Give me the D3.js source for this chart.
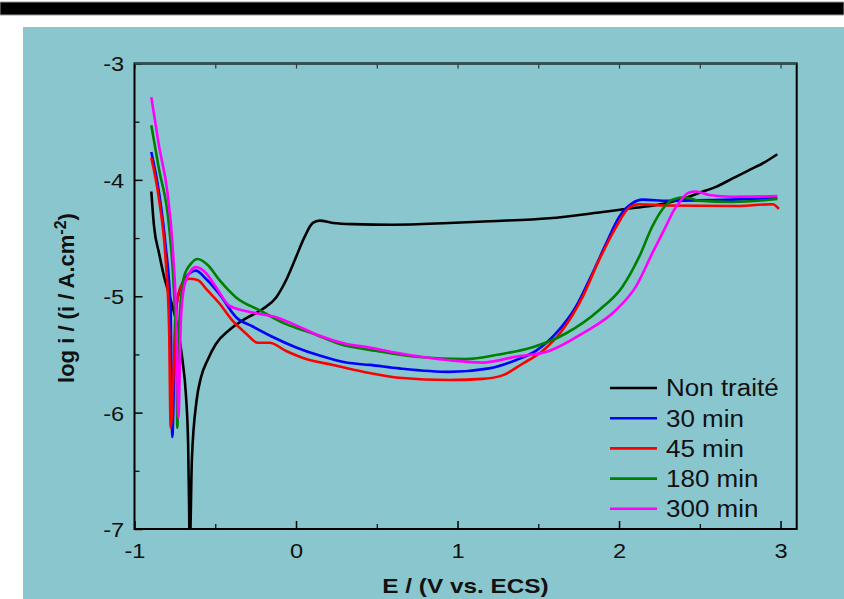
<!DOCTYPE html>
<html><head><meta charset="utf-8">
<script src="https://cdn.jsdelivr.net/npm/d3@7/dist/d3.min.js"></script>
<style>html,body{margin:0;padding:0;background:#fff;}svg{display:block;}</style>
</head><body>
<svg id="chart" width="844" height="599"></svg>
<script>
const seriesNames = ["Non traité", "30 min", "45 min", "180 min", "300 min"];
const seriesColors = ["#000000", "#0000ff", "#ff0000", "#008000", "#ff00ff"];
const xTicks = [-1, 0, 1, 2, 3];
const yTicks = [-3, -4, -5, -6, -7];

const nonTraite = [[-0.896,-4.10],[-0.879,-4.40],[-0.848,-4.63],[-0.817,-4.83],[-0.776,-5.03],[-0.735,-5.26],[-0.703,-5.55],[-0.682,-5.84],[-0.668,-6.27],[-0.662,-6.8],[-0.658,-7.3],[-0.652,-6.9],[-0.645,-6.41],[-0.616,-5.90],[-0.589,-5.70],[-0.548,-5.55],[-0.496,-5.41],[-0.413,-5.29],[-0.31,-5.19],[-0.206,-5.11],[-0.123,-5.01],[-0.061,-4.86],[0.001,-4.66],[0.053,-4.49],[0.104,-4.37],[0.146,-4.35],[0.229,-4.37],[0.353,-4.38],[0.6,-4.385],[0.948,-4.37],[1.2,-4.355],[1.567,-4.33],[1.876,-4.28],[2.1,-4.24],[2.29,-4.20],[2.4,-4.16],[2.5,-4.11],[2.6,-4.06],[2.7,-3.99],[2.8,-3.92],[2.9,-3.85],[2.98,-3.78]];
const min30 = [[-0.896,-3.76],[-0.848,-4.11],[-0.807,-4.57],[-0.776,-5.12],[-0.766,-6.21],[-0.745,-5.12],[-0.713,-4.92],[-0.672,-4.82],[-0.62,-4.78],[-0.558,-4.85],[-0.475,-4.98],[-0.371,-5.18],[-0.268,-5.26],[-0.144,-5.35],[0.001,-5.44],[0.146,-5.51],[0.312,-5.57],[0.456,-5.59],[0.638,-5.62],[0.948,-5.65],[1.196,-5.62],[1.36,-5.55],[1.485,-5.47],[1.609,-5.32],[1.733,-5.09],[1.836,-4.80],[1.919,-4.55],[2.0,-4.32],[2.083,-4.20],[2.145,-4.17],[2.3,-4.18],[2.7,-4.17],[2.98,-4.155]];
const min45 = [[-0.896,-3.81],[-0.848,-4.17],[-0.807,-4.69],[-0.786,-5.26],[-0.776,-6.13],[-0.755,-5.55],[-0.735,-5.03],[-0.703,-4.89],[-0.66,-4.85],[-0.61,-4.86],[-0.548,-4.95],[-0.475,-5.06],[-0.393,-5.21],[-0.31,-5.32],[-0.237,-5.40],[-0.165,-5.40],[-0.061,-5.47],[0.063,-5.54],[0.229,-5.59],[0.456,-5.66],[0.638,-5.70],[0.948,-5.72],[1.154,-5.71],[1.278,-5.68],[1.402,-5.58],[1.526,-5.47],[1.65,-5.29],[1.773,-5.01],[1.876,-4.69],[1.98,-4.41],[2.062,-4.24],[2.124,-4.21],[2.29,-4.22],[2.7,-4.225],[2.95,-4.21],[2.99,-4.25]];
const min180 = [[-0.896,-3.53],[-0.848,-3.91],[-0.786,-4.40],[-0.755,-4.98],[-0.74,-5.55],[-0.735,-6.13],[-0.724,-5.26],[-0.693,-4.83],[-0.65,-4.72],[-0.61,-4.68],[-0.548,-4.73],[-0.475,-4.86],[-0.371,-5.01],[-0.227,-5.12],[-0.061,-5.24],[0.104,-5.32],[0.27,-5.41],[0.5,-5.47],[0.74,-5.52],[1.05,-5.54],[1.257,-5.50],[1.46,-5.44],[1.67,-5.32],[1.876,-5.12],[2.02,-4.92],[2.125,-4.66],[2.206,-4.40],[2.27,-4.25],[2.33,-4.17],[2.41,-4.15],[2.495,-4.18],[2.7,-4.19],[2.98,-4.165]];
const min300 = [[-0.896,-3.29],[-0.848,-3.71],[-0.796,-4.11],[-0.765,-4.55],[-0.74,-5.26],[-0.728,-6.04],[-0.713,-5.21],[-0.693,-4.92],[-0.66,-4.80],[-0.62,-4.75],[-0.558,-4.80],[-0.496,-4.92],[-0.413,-5.08],[-0.268,-5.14],[-0.123,-5.18],[0.001,-5.25],[0.146,-5.34],[0.312,-5.41],[0.456,-5.44],[0.638,-5.49],[0.948,-5.55],[1.154,-5.57],[1.36,-5.52],[1.567,-5.47],[1.773,-5.32],[1.98,-5.12],[2.103,-4.92],[2.206,-4.63],[2.29,-4.40],[2.34,-4.26],[2.37,-4.20],[2.43,-4.11],[2.475,-4.10],[2.557,-4.13],[2.7,-4.145],[2.98,-4.14]];
const allSeries = [nonTraite, min30, min45, min180, min300];

const svg = d3.select("#chart");
const W = 844, H = 599;
const m = {left: 134.5, right: 796.7, top: 63.5, bottom: 529};

// header bar and panel background
svg.append("rect").attr("x",0).attr("y",2).attr("width",W).attr("height",13).attr("fill","#000").attr("stroke","#999").attr("stroke-width",1);
svg.append("rect").attr("x",23).attr("y",27).attr("width",W-23).attr("height",H-27).attr("fill","#8ac6ce");

const x = d3.scaleLinear().domain([-1, 3.1]).range([m.left, m.right]);
const y = d3.scaleLinear().domain([-7, -3]).range([m.bottom, m.top]);

const font = "'Liberation Sans', Arial, sans-serif";

svg.append("clipPath").attr("id","clip").append("rect")
  .attr("x",m.left).attr("y",m.top).attr("width",m.right-m.left).attr("height",m.bottom-m.top);

// minor/major ticks (inward)
const xMinor = d3.range(-0.5, 3.01, 1);
const yMinor = d3.range(-6.5, -3.4, 1);
const gB = svg.append("g").attr("transform",`translate(0,${m.bottom})`)
  .call(d3.axisBottom(x).tickValues(xTicks).tickSize(-8).tickFormat(d3.format("d")));
gB.select(".domain").remove();
gB.selectAll(".tick line").attr("stroke","#000").attr("stroke-width",1.5);
gB.selectAll("text").attr("y",29).attr("dy",0).attr("font-family",font).attr("font-size",20.5).attr("fill","#111")
  .attr("transform","scale(1.15,1)").text(d => d < 0 ? "-" + Math.abs(d) : d);
const gBm = svg.append("g").attr("transform",`translate(0,${m.bottom})`)
  .call(d3.axisBottom(x).tickValues(xMinor).tickSize(-5).tickFormat(""));
gBm.select(".domain").remove();
gBm.selectAll(".tick line").attr("stroke","#000").attr("stroke-width",1.2);

const gT = svg.append("g").attr("transform",`translate(0,${m.top})`)
  .call(d3.axisTop(x).tickValues(xTicks.concat(xMinor)).tickSize(-5).tickFormat(""));
gT.select(".domain").remove();
gT.selectAll(".tick line").attr("stroke","#333").attr("stroke-width",1.2);

const gL = svg.append("g").attr("transform",`translate(${m.left},0)`)
  .call(d3.axisLeft(y).tickValues(yTicks).tickSize(-8).tickFormat(d => "-" + Math.abs(d)));
gL.select(".domain").remove();
gL.selectAll(".tick line").attr("stroke","#000").attr("stroke-width",1.5);
gL.selectAll("text").attr("x",-9).attr("dy","0.36em").attr("font-family",font).attr("font-size",20.5).attr("fill","#111")
  .attr("text-anchor","end").attr("transform","scale(1.15,1)");
const gLm = svg.append("g").attr("transform",`translate(${m.left},0)`)
  .call(d3.axisLeft(y).tickValues(yMinor).tickSize(-5).tickFormat(""));
gLm.select(".domain").remove();
gLm.selectAll(".tick line").attr("stroke","#000").attr("stroke-width",1.2);

// frame
svg.append("rect").attr("x",m.left).attr("y",m.top).attr("width",m.right-m.left).attr("height",m.bottom-m.top)
  .attr("fill","none").attr("stroke","#000").attr("stroke-width",2);
svg.append("line").attr("x1",m.left).attr("x2",m.right).attr("y1",m.top).attr("y2",m.top)
  .attr("stroke","#2f4f52").attr("stroke-width",2.5);

// curves
const line = d3.line().x(d => x(d[0])).y(d => y(d[1])).curve(d3.curveMonotoneX);
const gC = svg.append("g").attr("clip-path","url(#clip)");
allSeries.forEach((s, i) => {
  gC.append("path").datum(s).attr("d", line).attr("fill","none")
    .attr("stroke", seriesColors[i]).attr("stroke-width", 2.6).attr("stroke-linejoin","round");
});

// legend
const legY0 = 388, legDY = 30.2;
seriesNames.forEach((n, i) => {
  const yy = legY0 + i*legDY;
  svg.append("line").attr("x1",610).attr("x2",657).attr("y1",yy).attr("y2",yy)
    .attr("stroke",seriesColors[i]).attr("stroke-width",2.6);
  svg.append("text").attr("transform",`translate(666,${yy+8.3}) scale(1.13,1)`)
    .attr("font-family",font).attr("font-size",23).attr("fill","#111").text(n);
});

// axis titles
svg.append("text").attr("transform",`translate(465.5,593) scale(1.16,1)`)
  .attr("text-anchor","middle").attr("font-family",font).attr("font-weight","bold").attr("font-size",21)
  .attr("fill","#111").text("E / (V vs. ECS)");

const yt = svg.append("text").attr("transform","translate(74,298) rotate(-90)")
  .attr("text-anchor","middle").attr("font-family",font).attr("font-weight","bold").attr("font-size",22)
  .attr("fill","#111");
yt.append("tspan").text("log i / (i / A.cm");
yt.append("tspan").attr("dy",-8).attr("font-size",16).text("-2");
yt.append("tspan").attr("dy",8).text(")");
</script>
</body></html>
